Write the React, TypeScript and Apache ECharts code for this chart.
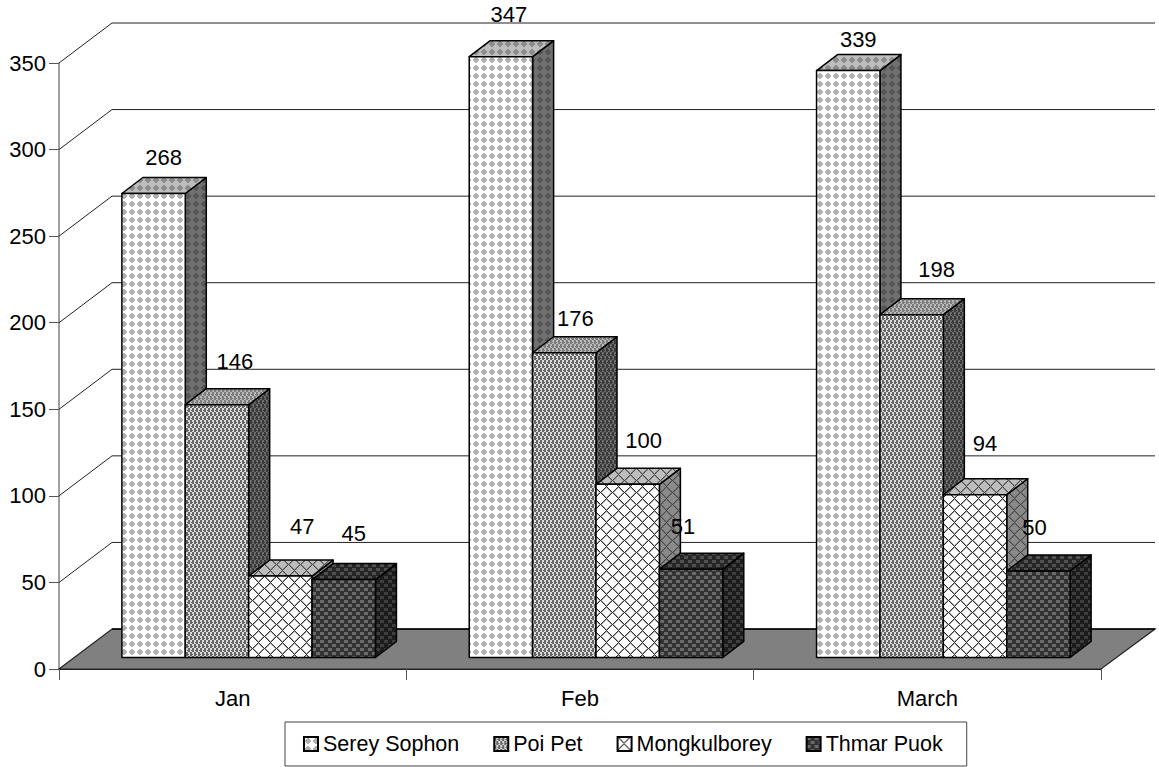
import React, { useEffect, useRef } from "react";
import * as echarts from "echarts";

const months = ["Jan", "Feb", "March"];
const yTicks = [0, 50, 100, 150, 200, 250, 300, 350];
const sereySophon = [268, 347, 339];
const poiPet = [146, 176, 198];
const mongkulborey = [47, 100, 94];
const thmarPuok = [45, 51, 50];
const seriesNames = ["Serey Sophon", "Poi Pet", "Mongkulborey", "Thmar Puok"];
const seriesValues = [sereySophon, poiPet, mongkulborey, thmarPuok];

// [dx, dy] of each value label, relative to the top-front of its bar
const labelNudges = [
  [[10, -36], [8, -42], [10, -31]],
  [[18, -43], [11, -34], [25, -45]],
  [[22, -50], [16, -44], [10, -51]],
  [[10, -46], [-8, -43], [-4, -43]],
];

const FONT = "Liberation Sans, Arial, sans-serif";

const dotsTile = [
  "........",
  "...##...",
  "..####..",
  ".######.",
  ".######.",
  "..####..",
  "...##...",
  "........",
];
const checkTile = [
  "##..##..",
  "##..##..",
  "##.###.#",
  "##..##..",
  "..##..##",
  "..##..##",
  "#.###.##",
  "..##..##",
];
const latticeTile = [
  "#+.........+",
  ".#+.......+#",
  "..#+.....+#.",
  "...#+...+#..",
  "....#+.+#...",
  ".....#+#....",
  "......#.....",
  ".....#+#....",
  "....#+.+#...",
  "...#+...+#..",
  "..#+.....+#.",
  ".#+.......+#",
];
const weaveTile = [
  "####....",
  "####....",
  "####....",
  "........",
  "....####",
  "....####",
  "....####",
  "........",
];

function tile(rows: string[], bg: string, fg: string, fg2?: string) {
  const c = document.createElement("canvas");
  c.width = rows[0].length;
  c.height = rows.length;
  const g = c.getContext("2d")!;
  g.fillStyle = bg;
  g.fillRect(0, 0, c.width, c.height);
  rows.forEach((r, y) => {
    for (let x = 0; x < r.length; x++) {
      if (r[x] === "#") {
        g.fillStyle = fg;
        g.fillRect(x, y, 1, 1);
      } else if (r[x] === "+" && fg2) {
        g.fillStyle = fg2;
        g.fillRect(x, y, 1, 1);
      }
    }
  });
  return { image: c, repeat: "repeat" };
}

export default function App() {
  const ref = useRef<HTMLDivElement>(null);
  useEffect(() => {
    document.body.style.margin = "0";
    const chart = echarts.init(ref.current!, undefined, { renderer: "svg" });

    const faces = [
      {
        front: tile(dotsTile, "#ffffff", "#b0b0b0"),
        side: tile(dotsTile, "#707070", "#565656"),
        top: tile(dotsTile, "#bdbdbd", "#8c8c8c"),
      },
      {
        front: tile(checkTile, "#dcdcdc", "#666666"),
        side: tile(checkTile, "#6c6c6c", "#3a3a3a"),
        top: tile(checkTile, "#b8b8b8", "#7c7c7c"),
      },
      {
        front: tile(latticeTile, "#ffffff", "#333333", "#a0a0a0"),
        side: tile(latticeTile, "#8a8a8a", "#4a4a4a", "#6a6a6a"),
        top: tile(latticeTile, "#bdbdbd", "#4a4a4a", "#8a8a8a"),
      },
      {
        front: tile(weaveTile, "#333333", "#6a6a6a"),
        side: tile(weaveTile, "#1c1c1c", "#3e3e3e"),
        top: tile(weaveTile, "#262626", "#505050"),
      },
    ];

    const BAR_RATIO = 0.1825;
    const CLUSTER_SHIFT = 16;
    const BASE_UP = 11.5;
    const BAR_DX = 21;
    const BAR_DY = 16;
    const WALL_DX = 53;
    const WALL_DY = 40;

    const barSeries = seriesValues.map((vals, si) => ({
      type: "custom",
      name: seriesNames[si],
      coordinateSystem: "cartesian2d",
      z: 5,
      encode: { x: 0, y: 1 },
      itemStyle: { color: faces[si].front, borderColor: "#000", borderWidth: 2 },
      data: vals.map((v, i) => [i, v]),
      renderItem: (_p: any, api: any) => {
        const idx = api.value(0);
        const val = api.value(1);
        const band = api.size([1, 0])[0];
        const w = band * BAR_RATIO;
        const [cx, yTop0] = api.coord([idx, val]);
        const y0 = api.coord([idx, 0])[1] - BASE_UP;
        const yT = yTop0 - BASE_UP;
        const x0 = cx + CLUSTER_SHIFT - 2 * w + si * w;
        const edge = { stroke: "#000", lineWidth: 1.5, lineJoin: "round" };
        const nudge = labelNudges[si][idx];
        return {
          type: "group",
          children: [
            {
              type: "polygon",
              shape: { points: [[x0 + w, yT], [x0 + w + BAR_DX, yT - BAR_DY], [x0 + w + BAR_DX, y0 - BAR_DY], [x0 + w, y0]] },
              style: { fill: faces[si].side, ...edge },
            },
            {
              type: "polygon",
              shape: { points: [[x0, yT], [x0 + w, yT], [x0 + w + BAR_DX, yT - BAR_DY], [x0 + BAR_DX, yT - BAR_DY]] },
              style: { fill: faces[si].top, ...edge },
            },
            {
              type: "polygon",
              shape: { points: [[x0, yT], [x0 + w, yT], [x0 + w, y0], [x0, y0]] },
              style: { fill: faces[si].front, ...edge },
            },
            {
              type: "text",
              z2: 100,
              style: {
                text: String(val),
                x: x0 + w / 2 + nudge[0],
                y: yT + nudge[1],
                align: "center",
                verticalAlign: "middle",
                fill: "#000",
                font: `22px ${FONT}`,
              },
            },
          ],
        };
      },
    }));

    const wallSeries = {
      type: "custom",
      coordinateSystem: "cartesian2d",
      z: 1,
      silent: true,
      encode: { x: 0, y: 1 },
      data: yTicks.map((t) => [0, t]),
      renderItem: (p: any, api: any) => {
        const val = api.value(1);
        const y = api.coord([0, val])[1];
        const xL = p.coordSys.x;
        const xR = xL + p.coordSys.width;
        if (val === 0) {
          return {
            type: "group",
            children: [
              {
                type: "polygon",
                shape: { points: [[xL, y], [xL + WALL_DX, y - WALL_DY], [xR + WALL_DX + 1, y - WALL_DY], [xR, y]] },
                style: { fill: "#808080", stroke: "#222", lineWidth: 1.2 },
              },
              {
                type: "line",
                shape: { x1: xL + WALL_DX, y1: y - WALL_DY, x2: xR + WALL_DX + 1, y2: y - WALL_DY },
                style: { stroke: "#000", lineWidth: 1.6 },
              },
            ],
          };
        }
        return {
          type: "polyline",
          shape: { points: [[xL, y], [xL + WALL_DX, y - WALL_DY], [xR + WALL_DX + 1, y - WALL_DY]] },
          style: { fill: "none", stroke: "#222", lineWidth: 1 },
        };
      },
    };

    chart.setOption({
      animation: false,
      backgroundColor: "#fff",
      grid: { left: 59, right: 58, top: 63, bottom: 98, containLabel: false },
      xAxis: {
        type: "category",
        data: months,
        boundaryGap: true,
        axisLine: { show: true, lineStyle: { color: "#222", width: 1.2 } },
        axisTick: { show: true, length: 11, alignWithLabel: false, lineStyle: { color: "#555", width: 1 } },
        axisLabel: { margin: 18, color: "#000", fontSize: 22, fontFamily: FONT },
        z: 6,
      },
      yAxis: {
        type: "value",
        min: 0,
        max: 350,
        interval: 50,
        splitLine: { show: false },
        axisLine: { show: true, lineStyle: { color: "#808080", width: 1.5 } },
        axisTick: { show: true, length: 10, lineStyle: { color: "#555", width: 1 } },
        axisLabel: { margin: 13, color: "#000", fontSize: 22, fontFamily: FONT },
      },
      legend: {
        left: 285,
        top: 722,
        orient: "horizontal",
        width: 690,
        padding: [11, 24, 11, 18],
        itemWidth: 14,
        itemHeight: 14,
        itemGap: 34,
        borderColor: "#444",
        borderWidth: 1,
        icon: "rect",
        selectedMode: false,
        textStyle: { color: "#000", fontSize: 21.5, fontFamily: FONT },
        data: seriesNames.map((name, si) => ({
          name,
          icon: "rect",
          itemStyle: { color: faces[si].front, borderColor: "#000", borderWidth: 2 },
        })),
      },
      series: [wallSeries, ...barSeries],
    });
    return () => chart.dispose();
  }, []);
  return <div ref={ref} style={{ position: "absolute", left: 0, top: 0, width: 1159, height: 767 }} />;
}
